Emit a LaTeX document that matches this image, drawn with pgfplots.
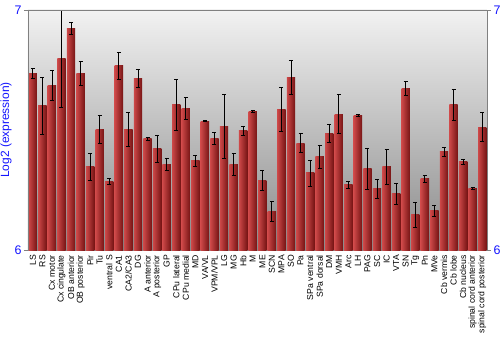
\documentclass[border=0pt]{standalone}
\usepackage{fontspec}
\setmainfont{Liberation Sans}
\usepackage{pgfplots}
\usepackage{pgfplotstable}
\pgfplotsset{compat=1.18}
\definecolor{tickblue}{RGB}{20,20,255}
\definecolor{barlight}{RGB}{205,72,72}
\definecolor{bardark}{RGB}{118,20,20}
\definecolor{frame}{RGB}{128,128,128}
\pgfplotstableread[col sep=semicolon]{
x;val;err;name
0;6.735;0.022;LS
1;6.600;0.118;RS
2;6.687;0.062;Cx motor
3;6.796;0.202;Cx cingulate
4;6.924;0.024;OB anterior
5;6.734;0.050;OB posterior
6;6.346;0.055;Pir
7;6.503;0.058;Tu
8;6.287;0.012;ventral S
9;6.767;0.057;CA1
10;6.503;0.072;CA2/CA3
11;6.715;0.039;DG
12;6.464;0.006;A anterior
13;6.421;0.057;A posterior
14;6.356;0.026;GP
15;6.605;0.105;CPu lateral
16;6.590;0.046;CPu medial
17;6.371;0.023;MD
18;6.536;0.002;VA/VL
19;6.464;0.024;VPM/VPL
20;6.515;0.135;LG
21;6.357;0.046;MG
22;6.497;0.019;Hb
23;6.576;0.004;M
24;6.291;0.042;ME
25;6.161;0.041;SCN
26;6.586;0.091;MPA
27;6.719;0.070;SO
28;6.445;0.039;Pa
29;6.321;0.054;SPa ventral
30;6.388;0.048;SPa dorsal
31;6.486;0.036;DM
32;6.566;0.081;VMH
33;6.271;0.014;Arc
34;6.560;0.004;LH
35;6.338;0.087;PAG
36;6.255;0.041;SC
37;6.346;0.074;IC
38;6.235;0.043;VTA
39;6.672;0.029;SN
40;6.147;0.053;Tg
41;6.296;0.015;Pn
42;6.163;0.023;MVe
43;6.409;0.017;Cb vermis
44;6.605;0.066;Cb lobe
45;6.367;0.009;Cb nucleus
46;6.258;0.004;spinal cord anterior
47;6.512;0.061;spinal cord posterior
}\datatable
\begin{document}
\begin{tikzpicture}
\path[use as bounding box] (-28bp,-100bp) rectangle (472bp,250bp);
\begin{axis}[
  scale only axis, width=459bp, height=240bp,
  xmin=-0.5, xmax=47.5, ymin=6, ymax=7,
  axis line style={draw=none},
  axis background/.style={top color={rgb,255:red,242;green,242;blue,242}, bottom color={rgb,255:red,138;green,138;blue,138}},
  ytick={6,7}, ytick pos=left,
  tick align=outside, major tick length=4bp,
  ytick style={frame, line width=0.8pt},
  yticklabel style={tickblue, font=\fontsize{12.5}{14}\selectfont, xshift=1bp},
  /pgf/number format/assume math mode=true,
  ylabel={Log2 (expression)},
  ylabel style={tickblue, font=\fontsize{12}{14}\selectfont, yshift=-4bp},
  xtick={0,...,47},
  xticklabels from table={\datatable}{name},
  xtick style={draw=none},
  xticklabel style={rotate=90, anchor=east, font=\fontsize{8.7}{10}\selectfont, inner sep=1bp},
  ybar, bar width=8.4bp,
  after end axis/.code={
    \draw[frame, line width=0.8pt] (rel axis cs:0,0) -- (rel axis cs:0,1) -- (rel axis cs:1,1) -- (rel axis cs:1,0);
  },
]
\pgfplotsinvokeforeach{0,...,47}{
\addplot[draw=none, left color=barlight, right color=bardark, bar shift=0pt,
  restrict x to domain=#1:#1,
  error bars/.cd, y dir=both, y explicit,
  error bar style={black, line width=0.8pt},
  error mark options={rotate=90, black, mark size=2bp, line width=0.8pt}]
  table[x=x, y=val, y error=err] {\datatable};
}
\end{axis}
\begin{axis}[
  scale only axis, width=459bp, height=240bp,
  xmin=-0.5, xmax=47.5, ymin=6, ymax=7,
  axis line style={draw=none},
  hide x axis,
  ytick={6,7}, ytick pos=right, yticklabel pos=right,
  tick align=outside, major tick length=4bp,
  ytick style={frame, line width=0.8pt},
  yticklabel style={tickblue, font=\fontsize{12.5}{14}\selectfont, xshift=-1bp},
  /pgf/number format/assume math mode=true,
]
\addplot[draw=none] coordinates {(0,6)};
\end{axis}
\end{tikzpicture}
\end{document}
